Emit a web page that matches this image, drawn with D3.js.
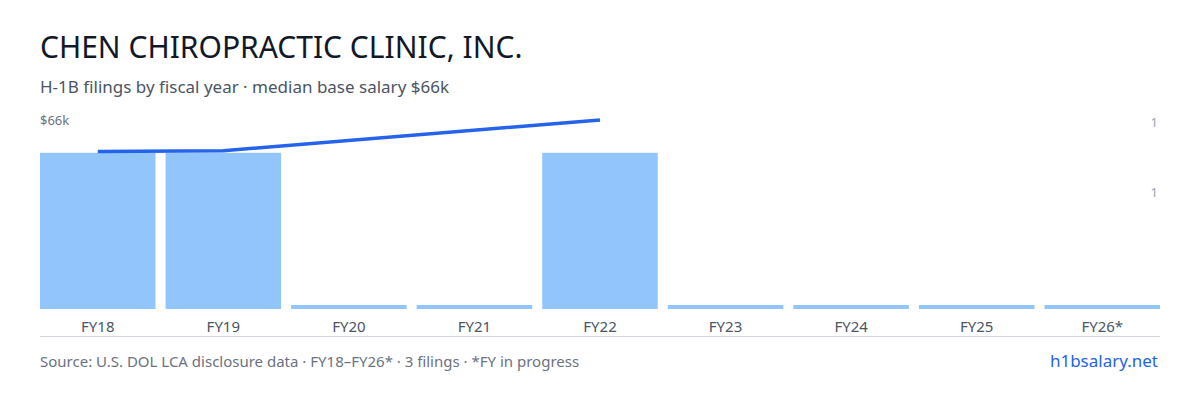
<!DOCTYPE html>
<html><head><meta charset="utf-8">
<script src="https://cdn.jsdelivr.net/npm/d3@7"></script>
<style>body{margin:0;background:#fff;font-family:"Noto Sans",sans-serif}</style>
</head><body><svg id="c" width="1200" height="400"></svg>
<script>
const years = ["FY18","FY19","FY20","FY21","FY22","FY23","FY24","FY25","FY26*"];
const filings = [1,1,0,0,1,0,0,0,0];
const salary = [55000,55300,null,null,66000,null,null,null,null];
const countTicks = [0.75,1.2];
const svg = d3.select("#c");
const L=40,R=1160,T=120,B=309;
const x=d3.scaleBand().domain(years).range([L,R]).paddingInner(0.08).paddingOuter(0.0);
const yc=d3.scaleLinear().domain([0,1.21]).range([B,T]);
const ys=d3.scaleLinear().domain([0,66000]).range([B,T]);
svg.append("text").attr("x",40).attr("y",58).attr("font-size",30).attr("fill","#111827").text("CHEN CHIROPRACTIC CLINIC, INC.");
svg.append("text").attr("x",40).attr("y",93).attr("font-size",17).attr("fill","#4b5563").text("H-1B filings by fiscal year · median base salary $66k");
svg.append("text").attr("x",40).attr("y",125).attr("font-size",13).attr("fill","#6b7280").text("$66k");
svg.selectAll(".rt").data(countTicks).join("text").attr("x",1158).attr("y",d=>yc(d)+5).attr("text-anchor","end").attr("font-size",13).attr("fill","#9ca3af").text(d=>d3.format(".0f")(d));
svg.selectAll(".bar").data(years).join("rect").attr("x",d=>x(d)).attr("width",x.bandwidth())
 .attr("y",(d,i)=>filings[i]>0?yc(filings[i]):B-4).attr("height",(d,i)=>filings[i]>0?B-yc(filings[i]):4).attr("fill","#93c5fd");
const pts=years.map((d,i)=>[d,salary[i]]).filter(p=>p[1]!=null);
svg.append("path").attr("d",d3.line().x(p=>x(p[0])+x.bandwidth()/2).y(p=>ys(p[1]))(pts)).attr("fill","none").attr("stroke","#2563eb").attr("stroke-width",3.5);
svg.append("line").attr("x1",L).attr("x2",R).attr("y1",336.5).attr("y2",336.5).attr("stroke","#d1d5db");
svg.selectAll(".xl").data(years).join("text").attr("x",d=>x(d)+x.bandwidth()/2).attr("y",332).attr("text-anchor","middle").attr("font-size",15).attr("fill","#4b5563").text(d=>d);
svg.append("text").attr("x",40).attr("y",367).attr("font-size",15).attr("fill","#6b7280").text("Source: U.S. DOL LCA disclosure data · FY18–FY26* · 3 filings · *FY in progress");
svg.append("text").attr("x",1158).attr("y",367).attr("text-anchor","end").attr("font-size",17).attr("fill","#2563eb").text("h1bsalary.net");
</script></body></html>
